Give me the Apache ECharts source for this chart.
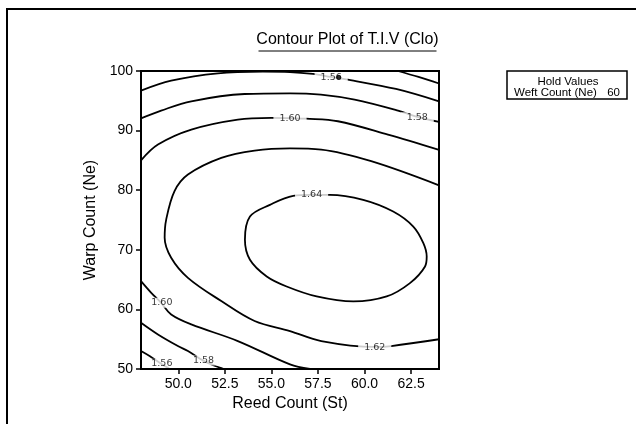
<!DOCTYPE html>
<html>
<head>
<meta charset="utf-8">
<script src="https://cdn.jsdelivr.net/npm/echarts@6/dist/echarts.min.js"></script>
<style>
  html, body { margin: 0; padding: 0; background: #fff; }
  #chart { width: 636px; height: 424px; }
</style>
</head>
<body>
<div id="chart"></div>
<script>
// Contour levels of T.I.V (Clo) over Reed Count (x) and Warp Count (y)
var contour154 = [[61.8, 100], [62.9, 99.0], [64, 97.9]];
var contour156 = [[48, 96.7], [49.62, 98.37], [52.13, 99.61], [54.55, 99.88], [56.0, 99.82],
  [57.23, 99.5], [58.2, 99.0], [59.11, 98.54], [61.69, 96.98], [64, 94.9]];
var contour158 = [[48, 92.04], [49.08, 93.35], [50.7, 94.92], [53.56, 96.14], [56.0, 96.26],
  [57.66, 96.03], [59.47, 95.19], [61.8, 93.35], [62.83, 92.3], [64, 91.45]];
var contour160Top = [[48, 85.0], [48.91, 87.65], [50.7, 90.16], [53.2, 91.84], [54.99, 92.12],
  [56.0, 92.07], [56.87, 92.0], [58.57, 91.57], [61.26, 89.32], [64, 86.76]];
var contour162 = [[64, 80.81], [60.36, 84.86], [57.68, 86.81], [56.0, 87.01], [54.1, 86.64],
  [52.31, 85.42], [50.52, 82.62], [49.8, 79.84], [49.35, 75.03], [49.27, 72.01], [49.62, 68.66],
  [50.52, 65.3], [52.31, 61.4], [54.1, 58.05], [56.0, 56.37], [57.68, 54.69], [60.55, 53.7],
  [61.44, 53.85], [64, 54.99]];
var contour164 = [[57.16, 79.22], [58.14, 79.22], [59.93, 78.38], [61.54, 76.42], [62.62, 73.9],
  [63.16, 71.12], [63.34, 68.87], [63.25, 67.2], [62.44, 64.41], [61.19, 62.17], [59.4, 61.33],
  [57.43, 62.17], [55.82, 63.84], [54.75, 65.52], [53.85, 68.32], [53.58, 71.67], [53.85, 75.58],
  [54.92, 77.54], [56.17, 79.05], [57.16, 79.22]];
var contour160Low = [[48, 64.75], [48.55, 62.79], [49.08, 61.11], [49.62, 59.15], [50.7, 57.48],
  [53.2, 54.69], [56.0, 50.77], [57.07, 50.0]];
var contour158Low = [[48, 57.76], [48.91, 55.8], [49.98, 53.86], [50.52, 53.02], [51.32, 51.44],
  [52.22, 50.22], [52.45, 50.0]];
var contour156Low = [[48, 53.02], [48.46, 52.18], [49.08, 50.89], [49.55, 50.0]];

// Level labels: [reed count, warp count, level]
var contourLabels = [
  [58.21, 98.94, '1.56'],
  [62.83, 92.24, '1.58'],
  [56.0, 92.07, '1.60'],
  [57.16, 79.22, '1.64'],
  [60.55, 53.66, '1.62'],
  [49.12, 61.11, '1.60'],
  [51.36, 51.44, '1.58'],
  [49.12, 50.89, '1.56']
];
var markedPoint = [[58.61, 98.94]];

var xTicks = [50, 52.5, 55, 57.5, 60, 62.5];
var holdFactor = 'Weft Count (Ne)';
var holdValue = 60;

var chart = echarts.init(document.getElementById('chart'), null, { renderer: 'canvas' });

var lineSets = [contour154, contour156, contour158, contour160Top, contour162, contour164,
  contour160Low, contour158Low, contour156Low];

var series = lineSets.map(function (pts) {
  return {
    type: 'line',
    data: pts,
    smooth: 0.35,
    showSymbol: false,
    symbol: 'none',
    lineStyle: { color: '#000', width: 1.8 },
    z: 2,
    silent: true
  };
});

series.push({
  type: 'scatter',
  data: contourLabels.map(function (d) { return { value: [d[0], d[1]], name: d[2] }; }),
  symbolSize: 0,
  z: 3,
  silent: true,
  label: {
    show: true,
    position: 'inside',
    formatter: '{b}',
    color: '#000',
    textBorderWidth: 0,
    fontFamily: 'DejaVu Sans',
    fontSize: 9.5,
    backgroundColor: '#fff',
    padding: [0, 6]
  }
});

series.push({
  type: 'scatter',
  data: markedPoint,
  symbol: 'circle',
  symbolSize: 5,
  itemStyle: { color: '#000' },
  z: 4,
  silent: true
});

var axisFont = { fontFamily: 'Liberation Sans', fontSize: 14, color: '#000' };

chart.setOption({
  animation: false,
  backgroundColor: '#fff',
  grid: {
    left: 141, top: 71, width: 298, height: 298,
    show: true, borderColor: '#000', borderWidth: 2, backgroundColor: 'transparent'
  },
  xAxis: {
    type: 'value', min: 48, max: 64, z: 5,
    name: 'Reed Count (St)', nameLocation: 'middle', nameGap: 26,
    nameTextStyle: { fontFamily: 'Liberation Sans', fontSize: 16, color: '#000' },
    axisLine: { show: true, lineStyle: { color: '#000', width: 2 } },
    axisTick: { show: true, inside: false, length: 5, customValues: xTicks, lineStyle: { color: '#000', width: 1.5 } },
    axisLabel: Object.assign({ margin: 8, customValues: xTicks, formatter: function (v) { return v.toFixed(1); } }, axisFont),
    splitLine: { show: false }
  },
  yAxis: {
    type: 'value', min: 50, max: 100, interval: 10, z: 5,
    name: 'Warp Count (Ne)', nameLocation: 'middle', nameGap: 42, nameRotate: 90,
    nameTextStyle: { fontFamily: 'Liberation Sans', fontSize: 16, color: '#000' },
    axisLine: { show: true, lineStyle: { color: '#000', width: 2 } },
    axisTick: { show: true, inside: false, length: 5, lineStyle: { color: '#000', width: 1.5 } },
    axisLabel: Object.assign({ margin: 8 }, axisFont),
    splitLine: { show: false }
  },
  graphic: [
    { type: 'rect', shape: { x: 7, y: 9, width: 700, height: 500 }, style: { fill: 'none', stroke: '#000', lineWidth: 2 }, silent: true },
    { type: 'text', x: 347.5, y: 40, style: { text: 'Contour Plot of T.I.V (Clo)', fontFamily: 'Liberation Sans', fontSize: 16, fill: '#000', textAlign: 'center', textVerticalAlign: 'middle' } },
    { type: 'line', shape: { x1: 258.5, y1: 51, x2: 436.5, y2: 51 }, style: { stroke: '#000', lineWidth: 1 } },
    { type: 'rect', shape: { x: 507, y: 71, width: 120, height: 28 }, style: { fill: '#fff', stroke: '#000', lineWidth: 1.5 } },
    { type: 'text', x: 568, y: 81.5, style: { text: 'Hold Values', fontFamily: 'Liberation Sans', fontSize: 11.5, fill: '#000', textAlign: 'center', textVerticalAlign: 'middle' } },
    { type: 'text', x: 514, y: 93.3, style: { text: holdFactor, fontFamily: 'Liberation Sans', fontSize: 11.5, fill: '#000', textAlign: 'left', textVerticalAlign: 'middle' } },
    { type: 'text', x: 620, y: 93.3, style: { text: String(holdValue), fontFamily: 'Liberation Sans', fontSize: 11.5, fill: '#000', textAlign: 'right', textVerticalAlign: 'middle' } }
  ],
  series: series
});
</script>
</body>
</html>
